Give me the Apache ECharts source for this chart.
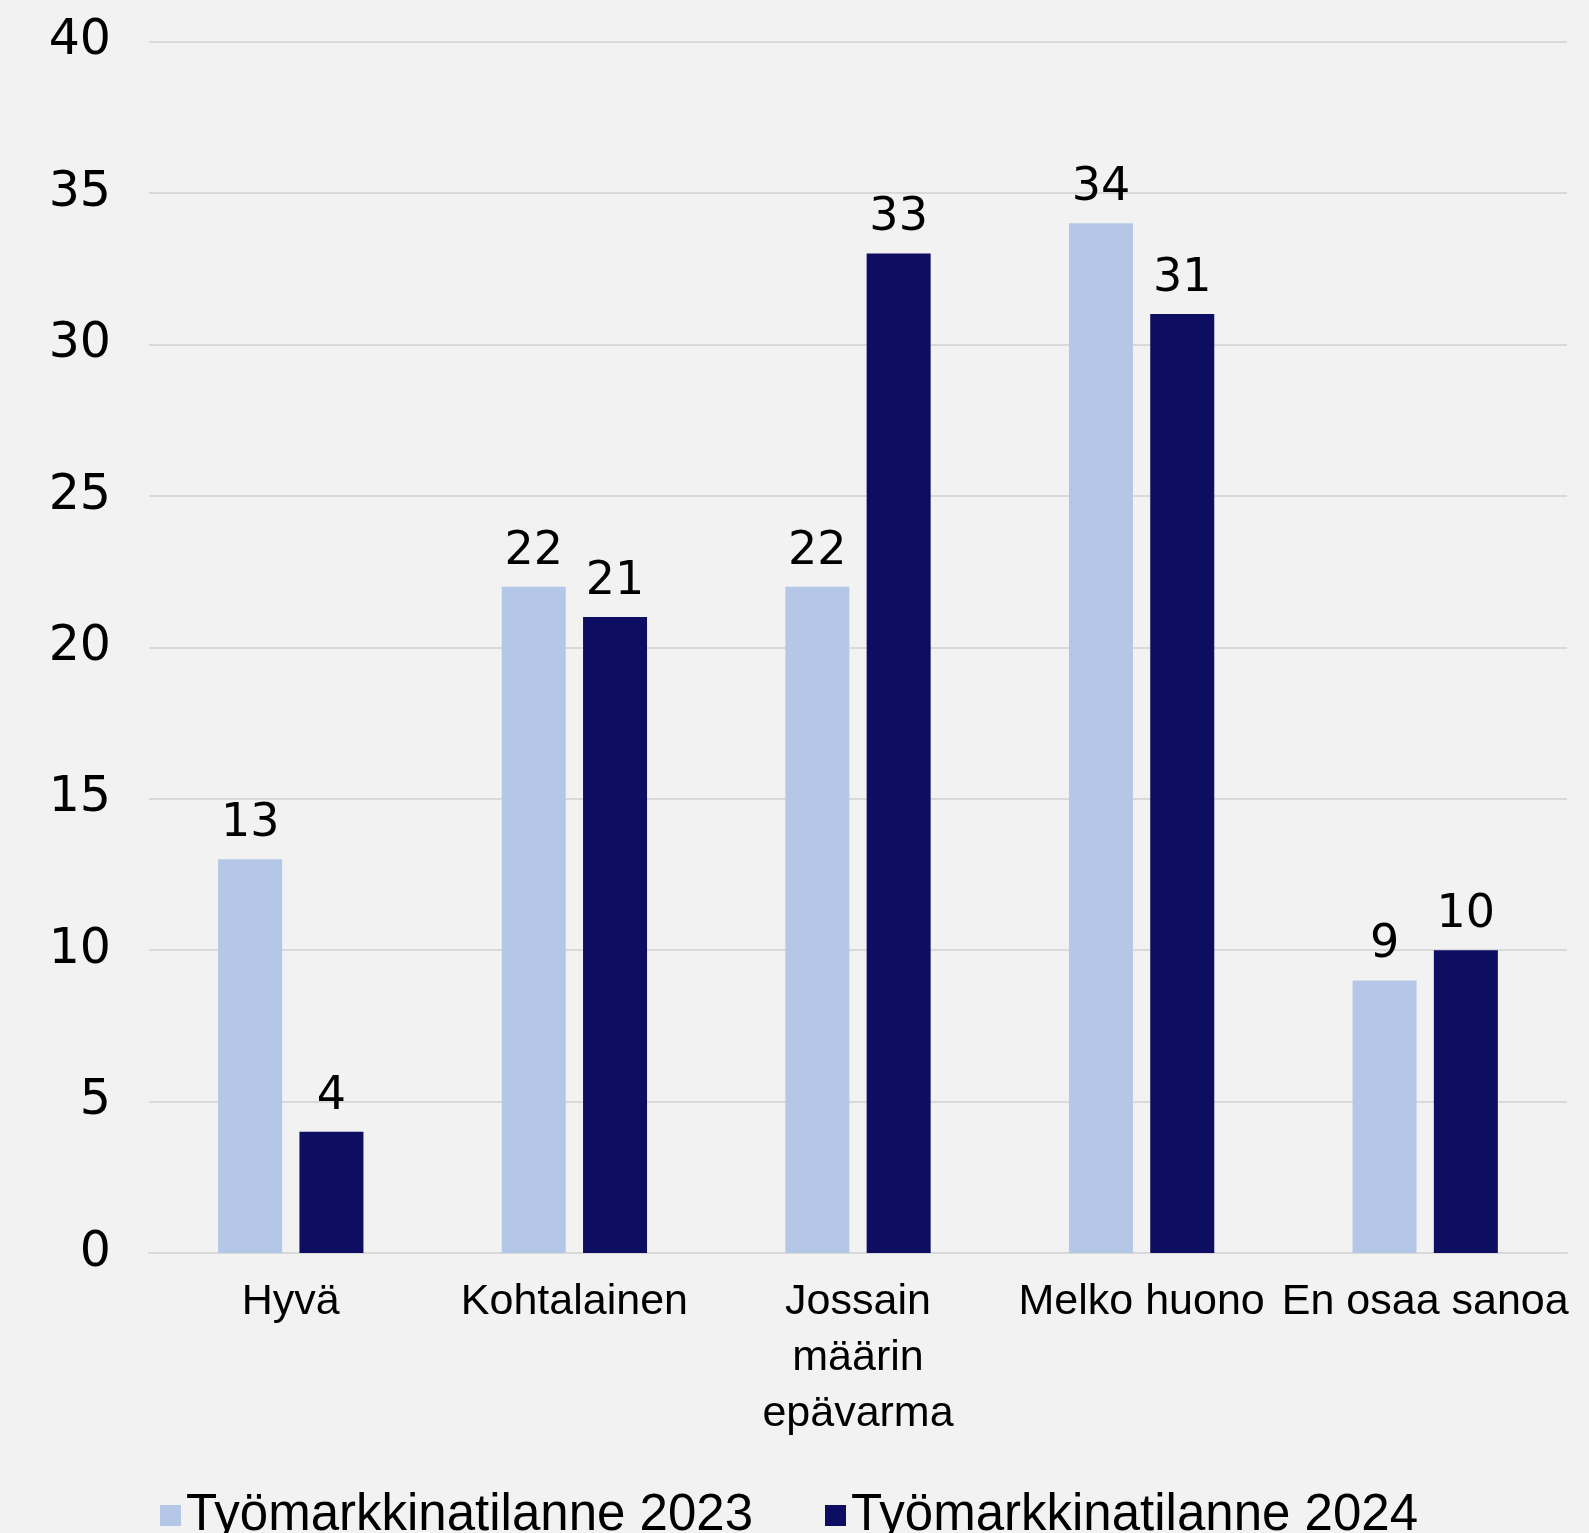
<!DOCTYPE html>
<html>
<head>
<meta charset="utf-8">
<style>
html,body{margin:0;padding:0;background:#F2F2F2;}
#c{width:1589px;height:1533px;}
</style>
<script src="https://cdn.jsdelivr.net/npm/echarts@6/dist/echarts.min.js"></script>
</head>
<body>
<div id="c"></div>
<script>
const categories = ["Hyvä", "Kohtalainen", "Jossain\nmäärin\nepävarma", "Melko huono", "En osaa sanoa"];
const seriesNames = ["Työmarkkinatilanne 2023", "Työmarkkinatilanne 2024"];
const values2023 = [13, 22, 22, 34, 9];
const values2024 = [4, 21, 33, 31, 10];
const yTicks = [0, 5, 10, 15, 20, 25, 30, 35, 40];

const FONT = "Liberation Sans";
const NUMFONT = "DejaVu Sans";
const chart = echarts.init(document.getElementById('c'));
chart.setOption({
  backgroundColor: '#F2F2F2',
  animation: false,
  textStyle: {fontFamily: FONT, color: '#000'},
  grid: {left: 149, right: 22, top: 41.5, bottom: 280, containLabel: false},
  legend: {
    data: seriesNames,
    left: 155,
    top: 1485,
    itemWidth: 21,
    itemHeight: 21,
    itemGap: 72,
    icon: 'rect',
    textStyle: {fontFamily: FONT, fontSize: 51, color: '#000'}
  },
  xAxis: {
    type: 'category',
    data: categories,
    axisLine: {show: true, lineStyle: {color: '#D9D9D9', width: 2}},
    axisTick: {show: false},
    axisLabel: {interval: 0, fontFamily: FONT, fontSize: 43, color: '#000', margin: 21, lineHeight: 56}
  },
  yAxis: {
    type: 'value',
    min: yTicks[0],
    max: yTicks[yTicks.length - 1],
    interval: 5,
    axisLine: {show: false},
    axisTick: {show: false},
    splitLine: {lineStyle: {color: '#D9D9D9', width: 2}},
    axisLabel: {fontFamily: NUMFONT, fontSize: 49, color: '#000', margin: 38}
  },
  series: [
    {
      name: seriesNames[0], type: 'bar', data: values2023,
      barWidth: 64, barGap: '27%',
      itemStyle: {color: '#B4C7E7'},
      label: {show: true, position: 'top', distance: 12, fontFamily: NUMFONT, fontSize: 46, color: '#000'}
    },
    {
      name: seriesNames[1], type: 'bar', data: values2024,
      barWidth: 64,
      itemStyle: {color: '#0D0D62'},
      label: {show: true, position: 'top', distance: 12, fontFamily: NUMFONT, fontSize: 46, color: '#000'}
    }
  ]
});
</script>
</body>
</html>
